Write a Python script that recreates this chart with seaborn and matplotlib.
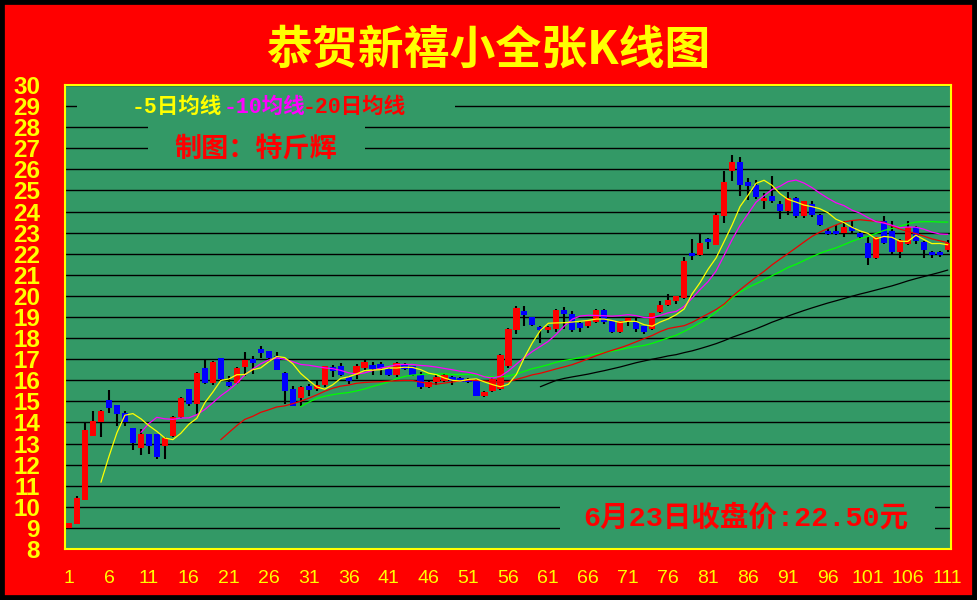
import numpy as np
import pandas as pd
import matplotlib
matplotlib.use('Agg')
import matplotlib.pyplot as plt
from matplotlib.patches import Rectangle
import seaborn as sns

# ------------------------------
# K-line data
# ------------------------------
opens = [8.98, 9.17, 10.31, 13.37, 14.00, 15.08, 14.81, 14.46, 13.75, 12.77,
         13.45, 13.45, 12.89, 13.37, 14.28, 15.58, 14.87, 16.57, 15.88, 17.05,
         15.93, 15.88, 16.62, 17.02, 17.49, 17.38, 17.14, 16.35, 15.59, 15.16,
         15.75, 15.59, 15.79, 16.62, 16.68, 16.14, 16.27, 16.59, 16.73, 16.78,
         16.54, 16.27, 16.78, 16.67, 16.27, 15.70, 15.90, 15.98, 16.14, 16.11,
         16.08, 16.02, 15.27, 15.50, 15.59, 16.66, 18.36, 19.29, 18.99, 18.52,
         18.36, 18.44, 19.34, 19.15, 18.71, 18.55, 18.76, 19.34, 18.79, 18.27,
         18.82, 18.74, 18.55, 18.44, 19.26, 19.56, 19.74, 19.90, 22.03, 21.95,
         22.71, 22.43, 23.77, 25.94, 26.35, 25.38, 25.26, 24.48, 24.74, 24.37,
         24.03, 24.63, 23.77, 24.37, 23.85, 23.10, 23.09, 22.98, 23.26, 23.00,
         22.50, 21.78, 23.56, 23.06, 22.06, 22.46, 23.25, 22.54, 22.09, 22.09,
         22.16]
highs = [9.25, 10.53, 14.02, 14.53, 14.60, 15.53, 14.83, 14.53, 13.76, 13.70,
         13.47, 13.47, 13.30, 14.30, 15.20, 15.60, 16.38, 16.97, 16.91, 17.07,
         16.18, 16.62, 17.32, 17.13, 17.62, 17.40, 17.33, 16.40, 15.75, 15.75,
         15.83, 15.98, 16.70, 16.73, 16.83, 16.22, 16.78, 16.94, 16.86, 16.86,
         16.60, 16.86, 16.83, 16.70, 16.38, 15.95, 16.27, 16.30, 16.22, 16.15,
         16.12, 16.05, 15.50, 16.10, 17.25, 18.46, 19.50, 19.50, 19.02, 18.55,
         18.55, 19.38, 19.46, 19.30, 18.75, 18.82, 19.38, 19.39, 18.82, 18.82,
         18.97, 18.94, 18.58, 19.20, 19.78, 20.11, 20.00, 21.83, 22.71, 22.93,
         22.75, 23.96, 25.94, 26.68, 26.57, 25.58, 25.50, 24.87, 25.69, 24.48,
         24.95, 24.68, 24.51, 24.51, 23.90, 23.21, 23.37, 23.53, 23.53, 23.05,
         22.82, 22.80, 23.80, 23.53, 22.70, 23.53, 23.30, 22.58, 22.15, 22.15,
         22.66]
lows = [8.98, 9.17, 10.31, 13.37, 13.29, 14.46, 13.82, 13.82, 12.68, 12.48,
        12.50, 12.28, 12.28, 13.30, 14.20, 14.79, 14.35, 15.80, 15.77, 16.00,
        15.70, 15.80, 16.21, 16.30, 17.06, 16.86, 16.50, 14.87, 14.79, 14.79,
        15.27, 15.50, 15.70, 16.17, 16.20, 15.83, 16.06, 16.51, 16.27, 16.27,
        16.20, 16.17, 16.50, 16.20, 15.59, 15.65, 15.79, 15.90, 15.79, 15.90,
        15.88, 15.25, 15.19, 15.45, 15.55, 16.60, 18.19, 18.55, 18.55, 17.76,
        18.24, 18.27, 18.44, 18.30, 18.27, 18.50, 18.70, 18.65, 18.24, 18.24,
        18.58, 18.27, 18.19, 18.40, 19.20, 19.50, 19.63, 19.85, 21.68, 21.90,
        22.24, 22.40, 23.48, 25.47, 24.74, 24.56, 24.60, 24.13, 24.40, 23.67,
        23.85, 23.70, 23.70, 23.74, 23.30, 22.90, 22.90, 22.77, 23.00, 22.70,
        21.45, 21.75, 22.45, 22.00, 21.78, 22.40, 22.46, 21.78, 21.80, 21.85,
        22.06]
closes = [9.25, 10.40, 13.66, 14.08, 14.56, 14.70, 14.38, 14.02, 13.03, 13.47,
          12.89, 12.37, 13.26, 14.27, 15.15, 14.87, 16.35, 15.88, 16.86, 16.07,
          15.74, 16.57, 16.95, 16.83, 17.30, 17.06, 16.51, 15.50, 14.79, 15.70,
          15.56, 15.78, 16.68, 16.46, 16.27, 15.98, 16.68, 16.87, 16.54, 16.59,
          16.27, 16.81, 16.54, 16.27, 15.70, 15.90, 16.17, 16.27, 15.98, 15.94,
          15.92, 15.27, 15.46, 16.08, 17.21, 18.44, 19.45, 19.10, 18.63, 18.36,
          18.52, 19.34, 19.15, 18.36, 18.50, 18.79, 19.34, 18.74, 18.27, 18.79,
          18.94, 18.43, 18.27, 19.18, 19.56, 19.82, 19.98, 21.64, 21.87, 22.50,
          22.54, 23.85, 25.38, 26.35, 25.26, 25.19, 24.67, 24.65, 24.48, 24.03,
          24.63, 23.77, 24.48, 23.85, 23.34, 22.93, 22.93, 23.25, 23.10, 22.77,
          21.78, 22.77, 22.50, 22.06, 22.66, 23.25, 22.58, 22.16, 21.92, 21.92,
          22.50]

x_ticks = list(range(1, 112, 5))
y_ticks = list(range(8, 31))

title = '恭贺新禧小全张K线图'
legend_items = [('-5日均线', '#FFFF00'), ('-10均线', '#FF00FF'), ('-20日均线', '#FF0000')]
maker_text = '制图：特斤辉'
close_text = '6月23日收盘价:22.50元'

GREEN_BG = '#339966'
RED_BG = '#FF0000'
YELLOW = '#FFFF00'

df = pd.DataFrame({'bar': np.arange(1, len(closes) + 1),
                   'open': opens, 'high': highs, 'low': lows, 'close': closes})

# the averaging lines of the original follow these columns
df['ma5'] = df['open'].rolling(5).mean()
df['ma10'] = df['high'].rolling(10).mean()
df['ma20'] = df['low'].rolling(20).mean()
df['ma30'] = df['close'].rolling(30).mean()
df['ma60'] = df['close'].rolling(60).mean()

sns.set_style('white')
plt.rcParams['font.family'] = ['Noto Sans CJK SC', 'DejaVu Sans']
plt.rcParams['axes.unicode_minus'] = False

fig = plt.figure(figsize=(9.77, 6.0), dpi=100, facecolor=RED_BG)
ax = fig.add_axes([65 / 977, 51 / 600, 886 / 977, 464 / 600])
ax.set_facecolor(GREEN_BG)

# ------------------------------
# Candles
# ------------------------------
up = df['close'] >= df['open']
body_bottom = np.minimum(df['open'], df['close'])
body_h = np.maximum(np.abs(df['close'] - df['open']), 0.05)

ax.vlines(df['bar'], df['low'], df['high'], color='black', lw=1.5, zorder=2)
ax.bar(df['bar'][up], body_h[up], bottom=body_bottom[up], width=0.78,
       color='#FF0000', linewidth=0, zorder=3)
ax.bar(df['bar'][~up], body_h[~up], bottom=body_bottom[~up], width=0.78,
       color='#0000FF', linewidth=0, zorder=3)

# ------------------------------
# Moving average lines
# ------------------------------
for col, colr in [('ma60', 'black'), ('ma30', '#00FF00'), ('ma20', '#EE0000'),
                  ('ma10', '#FF00FF'), ('ma5', '#FFFF00')]:
    sns.lineplot(data=df, x='bar', y=col, color=colr, lw=0.9, ax=ax,
                 estimator=None, errorbar=None, zorder=4)

ax.set_xlim(0.5, 111.4)
ax.set_ylim(8, 30)
ax.set_xlabel('')
ax.set_ylabel('')

ax.set_yticks(y_ticks)
ax.set_yticklabels([str(v) for v in y_ticks],
                   fontdict={'family': ['Liberation Sans', 'DejaVu Sans'],
                             'weight': 'bold', 'size': 17.5})
ax.set_xticks(x_ticks)
ax.set_xticklabels([str(v) for v in x_ticks],
                   fontdict={'family': ['Liberation Sans Narrow', 'Liberation Sans'],
                             'size': 14})
ax.tick_params(axis='y', colors=YELLOW, length=0, pad=18)
ax.tick_params(axis='x', colors=YELLOW, length=0, pad=15)

ax.set_axisbelow(True)
ax.grid(axis='y', color='black', lw=1.0)
ax.grid(axis='x', visible=False)
for sp in ax.spines.values():
    sp.set_color(YELLOW)
    sp.set_linewidth(1.5)
    sp.set_zorder(6)

# ------------------------------
# Text blocks on green patches
# ------------------------------
mono_cjk = ['Liberation Mono', 'Noto Sans CJK SC']

ax.add_patch(Rectangle((2.0, 28.55), 47.3, 0.9, facecolor=GREEN_BG,
                       edgecolor='none', zorder=1.5))
for (txt, colr), xpos in zip(legend_items, [8.9, 20.3, 30.2]):
    ax.text(xpos, 28.92, txt, color=colr, fontsize=15.5, fontweight='bold',
            family=mono_cjk, ha='left', va='center', zorder=5)

ax.add_patch(Rectangle((10.9, 26.45), 27.2, 1.9, facecolor=GREEN_BG,
                       edgecolor='none', zorder=1.5))
ax.text(24.4, 27.0, maker_text, color='#FF0000', fontsize=19.5, fontweight='bold',
        ha='center', va='center', zorder=5)

ax.add_patch(Rectangle((62.4, 8.7), 47.0, 1.7, facecolor=GREEN_BG,
                       edgecolor='none', zorder=1.5))
ax.text(85.7, 9.47, close_text, color='#FF0000', fontsize=20.5, fontweight='bold',
        family=mono_cjk, ha='center', va='center', zorder=5)

fig.text(0.5, 0.915, title, color=YELLOW, fontsize=33, fontweight='bold',
         ha='center', va='center')

# black frame round the picture
fig.add_artist(Rectangle((0, 0), 1, 1, transform=fig.transFigure, fill=False,
                         edgecolor='black', lw=7))

fig.savefig('out.png', dpi=100, facecolor=fig.get_facecolor())
